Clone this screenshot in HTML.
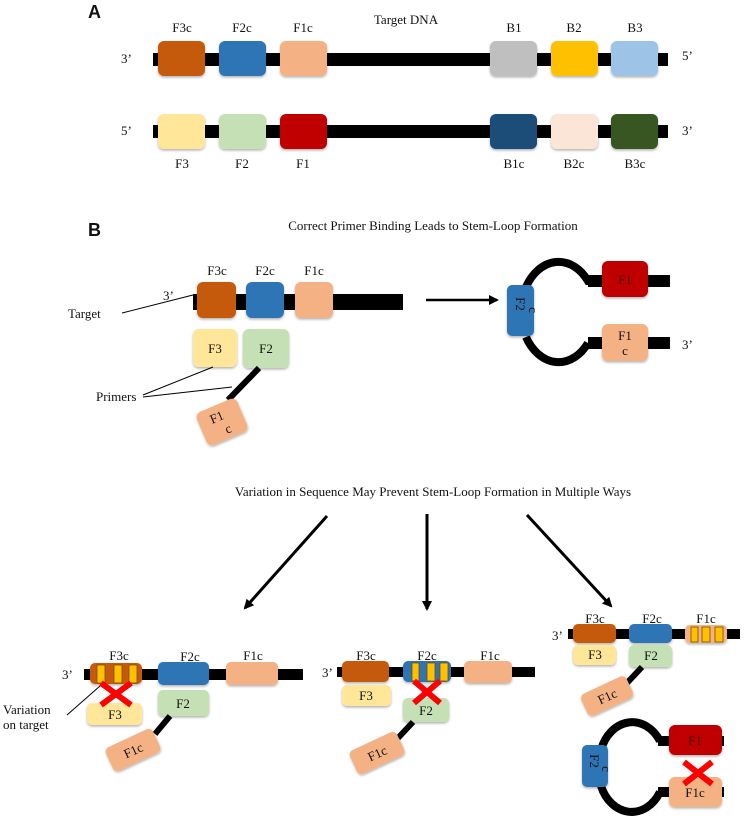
<!DOCTYPE html>
<html><head><meta charset="utf-8"><style>
html,body{margin:0;padding:0;background:#fff}
svg{display:block}
text{font-family:"Liberation Serif",serif;font-size:13px;fill:#111}
.h{font-family:"Liberation Sans",sans-serif;font-weight:bold;font-size:18px}
</style></head><body>
<svg width="749" height="819" viewBox="0 0 749 819" xmlns="http://www.w3.org/2000/svg">
<defs>
<filter id="s" x="-20%" y="-20%" width="140%" height="150%"><feDropShadow dx="0" dy="1.5" stdDeviation="1.2" flood-opacity="0.3"/></filter>
<marker id="ah" markerWidth="10" markerHeight="10" refX="8" refY="5" orient="auto" markerUnits="userSpaceOnUse"><path d="M0,0 L10,5 L0,10 Z" fill="#000"/></marker>
</defs>

<!-- Section A -->
<text class="h" x="88" y="18">A</text>
<text x="406" y="24" text-anchor="middle" font-size="14">Target DNA</text>
<rect x="153" y="53" width="515" height="13" fill="#000"/>
<text x="121" y="63">3’</text><text x="682" y="60">5’</text>
<g filter="url(#s)">
<rect x="158" y="41" width="47" height="35" rx="6" fill="#C55A11"/>
<rect x="219" y="41" width="47" height="35" rx="6" fill="#2E75B6"/>
<rect x="280" y="41" width="47" height="35" rx="6" fill="#F4B183"/>
<rect x="490" y="41" width="47" height="35" rx="6" fill="#BFBFBF"/>
<rect x="551" y="41" width="47" height="35" rx="6" fill="#FFC000"/>
<rect x="611" y="41" width="47" height="35" rx="6" fill="#9DC3E6"/>
</g>
<g text-anchor="middle">
<text x="182" y="32">F3c</text><text x="242" y="32">F2c</text><text x="303" y="32">F1c</text>
<text x="514" y="32">B1</text><text x="574" y="32">B2</text><text x="635" y="32">B3</text>
</g>
<rect x="153" y="125" width="515" height="13" fill="#000"/>
<text x="121" y="135">5’</text><text x="682" y="135">3’</text>
<g filter="url(#s)">
<rect x="158" y="114" width="47" height="35" rx="6" fill="#FFE699"/>
<rect x="219" y="114" width="47" height="35" rx="6" fill="#C5E0B4"/>
<rect x="280" y="114" width="47" height="35" rx="6" fill="#C00000"/>
<rect x="490" y="114" width="47" height="35" rx="6" fill="#1F4E79"/>
<rect x="551" y="114" width="47" height="35" rx="6" fill="#FBE5D6"/>
<rect x="611" y="114" width="47" height="35" rx="6" fill="#375623"/>
</g>
<g text-anchor="middle">
<text x="182" y="168">F3</text><text x="242" y="168">F2</text><text x="303" y="168">F1</text>
<text x="514" y="168">B1c</text><text x="574" y="168">B2c</text><text x="635" y="168">B3c</text>
</g>

<!-- Section B -->
<text class="h" x="88" y="236">B</text>
<text x="433" y="230" text-anchor="middle" font-size="13.5">Correct Primer Binding Leads to Stem-Loop Formation</text>
<rect x="193" y="294" width="210" height="16" fill="#000"/>
<text x="163" y="300">3’</text>
<g filter="url(#s)">
<rect x="197" y="282" width="39" height="36" rx="6" fill="#C55A11"/>
<rect x="246" y="282" width="38" height="36" rx="6" fill="#2E75B6"/>
<rect x="295" y="282" width="38" height="36" rx="6" fill="#F4B183"/>
<rect x="193" y="329" width="44" height="38" rx="6" fill="#FFE699"/>
<rect x="243" y="329" width="46" height="39" rx="6" fill="#C5E0B4"/>
</g>
<g text-anchor="middle">
<text x="217" y="275">F3c</text><text x="265" y="275">F2c</text><text x="314" y="275">F1c</text>
<text x="215" y="353">F3</text><text x="266" y="353">F2</text>
</g>
<line x1="259" y1="368" x2="228" y2="400" stroke="#000" stroke-width="6"/>
<g transform="translate(222,422) rotate(-23)">
<rect x="-22" y="-18" width="44" height="36" rx="6" fill="#F4B183" filter="url(#s)"/>
<text x="-3" y="-2" text-anchor="middle">F1</text><text x="3" y="13" text-anchor="middle">c</text>
</g>
<text x="68" y="318">Target</text>
<line x1="122" y1="313" x2="193" y2="295" stroke="#000" stroke-width="1"/>
<text x="96" y="401">Primers</text>
<line x1="143" y1="395" x2="213" y2="367" stroke="#000" stroke-width="1"/>
<line x1="143" y1="397" x2="232" y2="387" stroke="#000" stroke-width="1"/>

<line x1="426" y1="300" x2="497" y2="300" stroke="#000" stroke-width="2.5" marker-end="url(#ah)"/>

<path d="M526 287 A38 52 0 0 1 588 281 L670 281" fill="none" stroke="#000" stroke-width="8"/>
<rect x="588" y="275" width="82" height="12" fill="#000"/>
<path d="M526 337 A38 52 0 0 0 588 343" fill="none" stroke="#000" stroke-width="8"/>
<rect x="588" y="337" width="82" height="12" fill="#000"/>
<g filter="url(#s)">
<rect x="507" y="285" width="27" height="51" rx="5" fill="#2E75B6"/>
<rect x="602" y="261" width="46" height="36" rx="6" fill="#C00000"/>
<rect x="602" y="324" width="46" height="37" rx="6" fill="#F4B183"/>
</g>
<text x="625" y="284" text-anchor="middle" style="fill:#4a0000">F1</text>
<text x="625" y="340" text-anchor="middle">F1</text><text x="625" y="355" text-anchor="middle">c</text>
<g transform="translate(520,310) rotate(90)"><text x="-6" y="4" text-anchor="middle">F2</text><text x="0" y="-9" text-anchor="middle">c</text></g>
<text x="682" y="349">3’</text>

<text x="433" y="496" text-anchor="middle" font-size="13.8">Variation in Sequence May Prevent Stem-Loop Formation in Multiple Ways</text>
<line x1="327" y1="516" x2="245" y2="608" stroke="#000" stroke-width="3" marker-end="url(#ah)"/>
<line x1="427" y1="514" x2="427" y2="609" stroke="#000" stroke-width="3" marker-end="url(#ah)"/>
<line x1="527" y1="515" x2="611" y2="606" stroke="#000" stroke-width="3" marker-end="url(#ah)"/>

<!-- bottom left -->
<rect x="84" y="669" width="219" height="11" fill="#000"/>
<text x="62" y="679">3’</text>
<g filter="url(#s)">
<rect x="90" y="663" width="52" height="21" rx="5" fill="#C55A11"/>
<rect x="158" y="662" width="51" height="23" rx="5" fill="#2E75B6"/>
<rect x="226" y="662" width="52" height="23" rx="5" fill="#F4B183"/>
<rect x="87" y="703" width="55" height="22" rx="5" fill="#FFE699"/>
<rect x="158" y="690" width="51" height="26" rx="5" fill="#C5E0B4"/>
</g>
<g fill="#FFC000" stroke="#7a4a00" stroke-width="0.8">
<rect x="97" y="665" width="8" height="18"/><rect x="114" y="665" width="8" height="18"/><rect x="129" y="665" width="8" height="18"/>
</g>
<g text-anchor="middle">
<text x="119" y="660">F3c</text><text x="190" y="661">F2c</text><text x="253" y="660">F1c</text>
<text x="115" y="719">F3</text><text x="183" y="708">F2</text>
</g>
<g stroke="#FF0000" stroke-width="6"><line x1="101" y1="683" x2="131" y2="705"/><line x1="131" y1="683" x2="101" y2="705"/></g>
<line x1="170" y1="716" x2="155" y2="734" stroke="#000" stroke-width="6"/>
<g transform="translate(133,750) rotate(-25)"><rect x="-26" y="-13" width="52" height="26" rx="5" fill="#F4B183" filter="url(#s)"/><text y="5" text-anchor="middle">F1c</text></g>
<text x="3" y="714" font-size="13">Variation</text>
<text x="3" y="729" font-size="13">on target</text>
<line x1="67" y1="715" x2="100" y2="686" stroke="#000" stroke-width="1"/>

<!-- bottom middle -->
<rect x="337" y="667" width="198" height="10" fill="#000"/>
<text x="322" y="677">3’</text>
<g filter="url(#s)">
<rect x="342" y="661" width="47" height="21" rx="5" fill="#C55A11"/>
<rect x="403" y="661" width="48" height="21" rx="5" fill="#2E75B6"/>
<rect x="464" y="661" width="48" height="22" rx="5" fill="#F4B183"/>
<rect x="342" y="685" width="49" height="21" rx="5" fill="#FFE699"/>
<rect x="403" y="698" width="46" height="24" rx="5" fill="#C5E0B4"/>
</g>
<g fill="#FFC000" stroke="#7a4a00" stroke-width="0.8">
<rect x="412" y="663" width="7" height="18"/><rect x="427" y="663" width="8" height="18"/><rect x="440" y="663" width="8" height="18"/>
</g>
<g text-anchor="middle">
<text x="366" y="660">F3c</text><text x="427" y="660">F2c</text><text x="490" y="660">F1c</text>
<text x="366" y="700">F3</text><text x="426" y="715">F2</text>
</g>
<g stroke="#FF0000" stroke-width="6"><line x1="414" y1="681" x2="440" y2="703"/><line x1="440" y1="681" x2="414" y2="703"/></g>
<line x1="413" y1="722" x2="398" y2="738" stroke="#000" stroke-width="6"/>
<g transform="translate(377,753) rotate(-25)"><rect x="-26" y="-13" width="52" height="26" rx="5" fill="#F4B183" filter="url(#s)"/><text y="5" text-anchor="middle">F1c</text></g>

<!-- bottom right -->
<rect x="568" y="629" width="172" height="10" fill="#000"/>
<text x="552" y="640">3’</text>
<g filter="url(#s)">
<rect x="573" y="624" width="43" height="19" rx="5" fill="#C55A11"/>
<rect x="629" y="624" width="43" height="19" rx="5" fill="#2E75B6"/>
<rect x="685" y="625" width="42" height="18" rx="5" fill="#F4B183"/>
<rect x="573" y="645" width="43" height="20" rx="5" fill="#FFE699"/>
<rect x="629" y="645" width="43" height="22" rx="5" fill="#C5E0B4"/>
</g>
<g fill="#FFC000" stroke="#7a4a00" stroke-width="0.8">
<rect x="691" y="627" width="7" height="15"/><rect x="702" y="627" width="8" height="15"/><rect x="715" y="627" width="8" height="15"/>
</g>
<g text-anchor="middle">
<text x="595" y="623">F3c</text><text x="652" y="623">F2c</text><text x="706" y="623">F1c</text>
<text x="595" y="659">F3</text><text x="651" y="660">F2</text>
</g>
<line x1="642" y1="667" x2="627" y2="683" stroke="#000" stroke-width="6"/>
<g transform="translate(607,696) rotate(-25)"><rect x="-25" y="-12" width="50" height="24" rx="5" fill="#F4B183" filter="url(#s)"/><text y="5" text-anchor="middle">F1c</text></g>

<path d="M601 750 A33 41 0 0 1 660 741" fill="none" stroke="#000" stroke-width="8"/>
<rect x="658" y="736" width="66" height="10" fill="#000"/>
<path d="M601 786 A33 41 0 0 0 660 792" fill="none" stroke="#000" stroke-width="8"/>
<rect x="658" y="787" width="66" height="10" fill="#000"/>
<g filter="url(#s)">
<rect x="582" y="745" width="26" height="42" rx="5" fill="#2E75B6"/>
<rect x="669" y="725" width="53" height="30" rx="6" fill="#C00000"/>
<rect x="669" y="777" width="53" height="30" rx="6" fill="#F4B183"/>
</g>
<text x="695" y="745" text-anchor="middle" style="fill:#4a0000">F1</text>
<text x="695" y="797" text-anchor="middle">F1c</text>
<g transform="translate(595,766) rotate(90)"><text x="-5" y="5" text-anchor="middle">F2</text><text x="3" y="-7" text-anchor="middle">c</text></g>
<g stroke="#FF0000" stroke-width="6"><line x1="684" y1="762" x2="712" y2="784"/><line x1="712" y1="762" x2="684" y2="784"/></g>
</svg>
</body></html>
